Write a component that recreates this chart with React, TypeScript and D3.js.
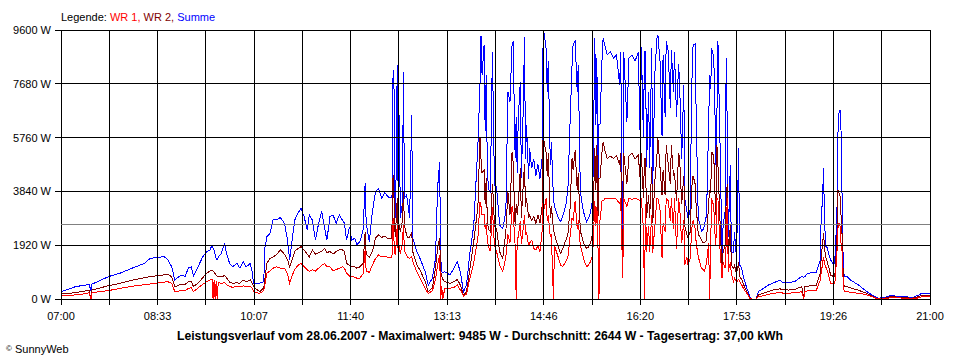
import React from 'react';
import * as d3 from 'd3';

// minutes after 07:00
const minutes = [
  0,14,24,27,29,30,33,46,57,72,
  81,86,96,99,103,107,110,113,117,120,
  123,126,128,130,134,137,141,144,146,147,
  148,149,150,151,152,155,158,160,163,166,
  170,173,176,179,183,185,186,192,196,197,
  199,202,205,208,212,216,219,221,223,226,
  229,232,235,238,240,243,246,249,252,255,
  257,260,263,266,269,272,274,276,279,281,
  284,286,289,292,294,295,298,301,304,307,
  310,313,316,319,320,321,322,323,324,325,
  326,327,328,330,331,332,334,335,337,339,
  340,344,347,352,355,359,362,364,366,367,
  368,369,371,376,380,383,386,389,392,395,
  399,403,405,406,407,409,410,411,412,413,
  415,417,418,419,421,424,427,430,432,434,
  436,437,439,440,441,442,444,445,447,448,
  449,450,452,453,455,457,459,461,463,465,
  466,467,469,470,471,473,474,476,477,481,
  483,485,488,490,492,494,495,497,499,500,
  502,503,505,508,510,512,514,516,517,518,
  519,520,521,523,524,526,528,531,534,537,
  540,541,543,544,547,549,552,555,558,560,
  561,563,564,565,566,568,569,571,572,574,
  576,577,579,581,582,584,585,587,589,590,
  592,593,595,597,598,600,602,603,605,606,
  608,610,611,613,614,616,618,619,621,622,
  624,626,627,628,629,631,632,633,634,635,
  637,639,640,642,643,644,645,647,648,650,
  651,653,655,656,658,660,663,666,668,672,
  674,679,684,688,695,698,703,709,716,718,
  719,722,730,734,735,736,737,738,739,740,
  742,744,747,748,750,751,752,753,754,755,
  756,757,760,763,771,777,784,790,797,803,
  809,816,822,829,832,840,
];

const summe = [
  260,440,500,530,300,540,580,800,920,1150,
  1270,1450,1490,1530,1420,1150,680,770,857,800,
  1100,1150,820,950,1270,1510,1690,1750,1930,1800,
  1750,1600,1450,1400,1500,1630,1990,1630,1270,1150,
  1270,1100,1330,1150,1270,920,560,560,620,1800,
  2220,2340,2820,2820,2910,2700,2100,1390,1990,2820,
  3060,3240,2940,2460,3000,2820,2100,2700,3120,2500,
  2100,2940,3000,2700,3000,2820,2700,2100,2580,2100,
  2170,1930,2050,2460,4130,2700,2050,3120,3830,3950,
  3590,3800,3650,3600,3700,8170,7400,2880,4500,8350,
  2900,6570,2900,3400,8110,3600,3710,3500,2900,6570,
  2180,1690,1450,975,500,740,1450,3950,4900,1500,
  975,950,975,860,1100,1330,975,260,500,1570,
  2640,5500,7640,9400,8000,9070,6000,8000,5000,3950,
  3800,8830,6500,4070,4000,2640,2500,3120,7400,7040,
  9070,9190,5020,6500,4500,6450,7760,4310,7040,9360,
  5000,6210,4300,5380,4660,5000,4400,4800,4300,5000,
  9240,9485,8900,7400,8500,4780,5600,3590,3300,2880,
  2760,2950,3360,3900,6210,8350,9070,9200,7400,8350,
  3830,3590,3120,2760,2880,3120,3590,9300,6210,8590,
  3100,6210,6210,8590,9300,9000,8710,8830,8590,8710,
  7640,8830,1690,8800,6330,8600,8700,8500,8800,5500,
  9000,5730,8830,8830,4700,7400,4660,8950,4070,8000,
  9300,9420,8500,5800,8700,6500,9190,8830,6810,8900,
  7400,8800,6500,8400,7640,5000,7640,3590,3120,2880,
  3120,8000,9070,9100,6500,2880,2640,2400,2500,2640,
  3000,6210,8000,7500,8950,8600,7000,4800,6450,9190,
  5600,1450,2640,3120,8590,6210,2200,4780,1690,1650,
  2400,1450,5380,1210,1100,740,380,80,0,0,
  260,380,500,560,680,570,590,620,800,780,
  800,920,950,1390,3300,3300,4660,3000,1870,1900,
  1630,1390,1210,1390,2940,5910,6620,6740,6000,3650,
  1500,800,800,680,500,320,140,25,60,140,
  80,100,40,140,200,200,
];

const wr2 = [
  180,225,290,320,0,320,350,475,560,700,
  760,800,845,860,880,800,440,480,535,520,
  620,640,440,500,620,760,920,1000,1035,1000,
  950,900,850,820,820,800,830,760,600,560,
  580,560,680,620,680,560,440,260,400,700,
  1270,1450,1500,1570,1750,1600,1400,1150,1350,1700,
  1800,1870,1750,1600,1500,1750,1600,1650,1700,1810,
  1650,1700,1600,1700,1750,1750,1700,1270,1200,1150,
  1150,1100,1150,1270,2400,1600,1500,1690,2170,2280,
  2200,2250,2150,2150,2700,4430,3500,2200,2800,3590,
  2300,2640,2400,2800,3830,2600,2300,2200,2200,2400,
  1690,1210,1035,620,260,400,1100,1800,2180,1000,
  800,700,620,560,620,700,500,140,260,1000,
  2050,3300,5790,5000,4500,4600,3400,4300,3000,2500,
  2400,4100,3500,2600,2500,1690,1450,2400,3830,3000,
  5260,4900,2600,3400,3000,3400,4660,2900,4200,4800,
  3300,3600,2900,3000,2800,2950,2700,3000,2700,3300,
  5850,5600,5200,4400,5200,2900,3300,2500,2300,1810,
  1630,1800,2100,2300,3200,5020,4600,5300,3900,4500,
  2400,2300,2000,1810,1850,2000,2400,5380,3900,5500,
  2800,4300,4300,5260,5600,5260,5020,5100,5020,5100,
  4800,5200,975,5200,4100,5100,5200,5000,5150,4200,
  5200,3600,5000,5000,2900,3700,2900,4700,2700,4200,
  5100,5730,4700,3700,4600,3700,5500,4800,4100,5500,
  4400,4500,3500,5200,5000,3400,4400,2600,2300,2200,
  2350,4100,4400,4100,3300,2300,2200,2100,2000,2000,
  2100,3400,3900,3800,5260,5100,3900,3000,5500,4800,
  2800,975,1690,1900,3600,4100,1500,2640,1200,1100,
  1200,900,1300,800,700,500,260,40,0,0,
  140,210,270,320,360,340,320,340,440,0,
  440,460,480,920,1600,1900,2340,1900,1500,1400,
  1150,850,800,800,2100,3890,3800,3700,3000,2300,
  1000,440,440,400,310,230,100,0,40,90,
  60,60,20,80,140,140,
];

const wr1 = [
  120,145,190,225,0,225,240,300,380,475,
  510,535,580,600,620,560,260,280,300,290,
  380,400,260,320,440,520,620,680,700,0,
  680,0,650,0,580,560,580,520,440,420,
  450,430,470,450,440,380,260,200,300,500,
  920,1000,1100,1150,1100,1100,900,560,800,1050,
  1200,1270,1150,1050,980,1050,1000,1100,1200,1270,
  1150,1150,1000,1050,1100,1150,1100,920,820,800,
  780,740,750,900,1750,1000,950,1210,1450,1570,
  1500,1530,1480,1480,1570,2880,2000,1570,2000,2640,
  1570,1930,1600,2000,2640,1700,1570,1500,1450,1500,
  1330,975,740,380,200,290,700,1200,1570,0,
  450,0,380,380,420,500,320,100,180,700,
  1300,2200,3470,3300,3000,3000,2500,2700,2200,1900,
  1700,3300,2500,1900,1700,1210,975,1500,2300,2000,
  3300,3100,1900,0,2200,2200,2800,1950,2600,3000,
  2300,2400,1900,2000,2100,1800,1750,1900,1700,2400,
  3500,3200,3600,2800,3000,2200,2300,0,1900,1450,
  1210,1150,1350,1500,2200,2900,2800,3500,2500,2800,
  1900,1800,1450,1150,1210,1350,1600,3500,2600,3300,
  2000,0,2800,3500,3500,3590,3590,3590,3590,3560,
  3400,3590,740,3590,3300,3590,3560,3590,3560,3500,
  3590,2500,0,3400,1690,2600,1690,3000,1650,2600,
  3590,3590,3200,1450,2700,2400,3590,3500,2800,3590,
  2500,3590,1800,3590,3300,2000,2800,1210,1500,1250,
  1400,2600,2800,2500,2000,1500,1250,1100,1050,1000,
  1300,2000,0,2000,3590,3300,2400,1900,3590,3590,
  1800,740,1300,1100,2000,3590,975,1300,900,620,
  740,600,700,620,500,357,200,20,0,0,
  70,120,170,200,230,210,210,220,260,0,
  260,290,300,680,1000,1200,1500,1300,1130,1100,
  850,560,530,540,1600,2500,2710,2600,2000,1700,
  700,260,260,240,200,170,80,0,20,50,
  40,30,10,40,80,80,
];

const yTicks = [0, 1920, 3840, 5760, 7680, 9600];
const xTickLabels = ['07:00', '08:33', '10:07', '11:40', '13:13', '14:46', '16:20', '17:53', '19:26', '21:00'];
const averageW = 2644;
const legendItems = [
  { label: 'WR 1, ', color: '#ff0000' },
  { label: 'WR 2, ', color: '#800000' },
  { label: 'Summe', color: '#0000ff' },
];
const titleText = 'Leistungsverlauf vom 28.06.2007 - Maximalwert: 9485 W - Durchschnitt: 2644 W - Tagesertrag: 37,00 kWh';

const FONT = '"Liberation Sans", Arial, sans-serif';

export default function App() {
  const W = 960, H = 360;
  const left = 61, right = 930, top = 30, bottom = 299;
  const totalMin = 840;
  const x = d3.scaleLinear().domain([0, totalMin]).range([left, right]);
  const y = d3.scaleLinear().domain([0, 9600]).range([bottom, top]);

  const n = Math.min(minutes.length, summe.length, wr1.length, wr2.length);
  const idx = d3.range(n);
  const mk = (vals: number[]) =>
    d3.line<number>().x(i => x(minutes[i])).y(i => y(vals[i]))(idx) || '';

  const gridCount = 18;
  const gridMins = d3.range(gridCount + 1).map(i => (i * totalMin) / gridCount);

  return (
    <svg width={W} height={H} style={{ position: 'absolute', left: 0, top: 0, background: '#fff' }}
      fontFamily={FONT} fontSize={11}>
      <rect x={0} y={0} width={W} height={H} fill="#fff" />
      {/* legend */}
      <text x={left} y={21} fill="#000">
        Legende:{' '}
        {legendItems.map(l => (
          <tspan key={l.label} fill={l.color}>{l.label}</tspan>
        ))}
      </text>
      {/* data */}
      <g fill="none" strokeWidth={1} shapeRendering="crispEdges">
        <path d={mk(summe)} stroke="#0000ff" />
        <path d={mk(wr2)} stroke="#800000" />
        <path d={mk(wr1)} stroke="#ff0000" />
      </g>
      {/* grid */}
      <g stroke="#000" strokeWidth={1} shapeRendering="crispEdges">
        {gridMins.map((m, i) => (
          <line key={'v' + i} x1={x(m)} x2={x(m)} y1={top} y2={bottom + 6} />
        ))}
        {yTicks.map(t => (
          <line key={'h' + t} x1={left - 6} x2={right} y1={y(t)} y2={y(t)} />
        ))}
      </g>
      <line x1={left} x2={right} y1={y(averageW)} y2={y(averageW)} stroke="#808080" strokeWidth={1} shapeRendering="crispEdges" />
      {/* y labels */}
      {yTicks.map(t => (
        <text key={'yl' + t} x={51} y={y(t) + 4} textAnchor="end" fill="#000">{`${t} W`}</text>
      ))}
      {/* x labels */}
      {xTickLabels.map((lab, i) => (
        <text key={'xl' + i} x={x(gridMins[i * 2])} y={320} textAnchor="middle" fill="#000">{lab}</text>
      ))}
      <text x={480} y={340} textAnchor="middle" fontWeight="bold" fontSize={12}
        textLength={606} lengthAdjust="spacingAndGlyphs" fill="#000">{titleText}</text>
      <text x={6} y={353} fill="#000">
        <tspan fontSize={8} dy={-2}>©</tspan>
        <tspan dy={2}> SunnyWeb</tspan>
      </text>
    </svg>
  );
}
